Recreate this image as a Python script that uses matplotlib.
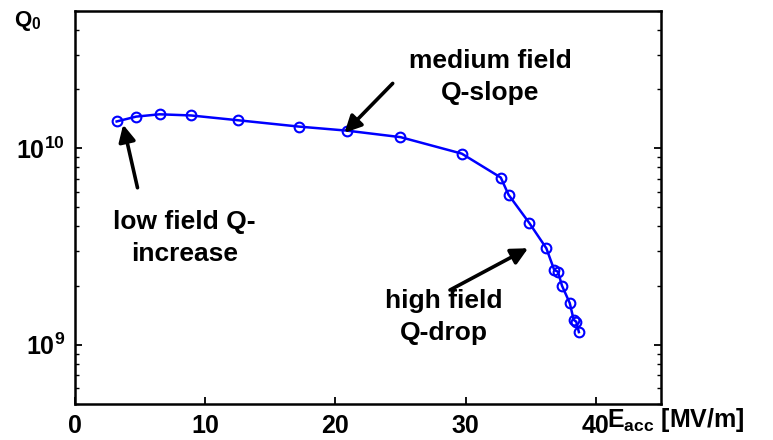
import matplotlib.pyplot as plt
from matplotlib.ticker import FixedLocator, LogLocator, NullFormatter

# 数据 (Eacc in MV/m, Q0)
eacc = [3.2, 4.7, 6.5, 8.9, 12.5, 17.2, 20.9, 25.0, 29.7, 32.7, 33.3, 34.9,
        36.2, 36.8, 37.1, 37.4, 38.0, 38.3, 38.5, 38.7]
q0 = [1.37e10, 1.45e10, 1.49e10, 1.47e10, 1.39e10, 1.29e10, 1.23e10, 1.14e10,
      9.4e9, 7.1e9, 5.8e9, 4.16e9, 3.1e9, 2.41e9, 2.35e9, 2.0e9, 1.63e9,
      1.34e9, 1.31e9, 1.16e9]
x_ticks = [0, 10, 20, 30, 40]
y_ticks = [1e9, 1e10]
y_tick_labels = [r'$\mathbf{10^{9}}$', r'$\mathbf{10^{10}}$']

plt.rcParams['font.family'] = ['Liberation Sans', 'DejaVu Sans']
plt.rcParams['mathtext.fontset'] = 'custom'
plt.rcParams['mathtext.bf'] = 'Liberation Sans:bold'

fig = plt.figure(figsize=(7.73, 4.40), dpi=100, facecolor='white')
ax = fig.add_axes([0.097, 0.082, 0.758, 0.893])

ax.plot(eacc, q0, color='blue', linewidth=1.8, marker='o', markersize=7,
        markerfacecolor='none', markeredgecolor='blue', markeredgewidth=1.5)

ax.set_yscale('log')
ax.set_xlim(0, 45)
ax.set_ylim(5e8, 5e10)

# 坐标轴样式
for s in ax.spines.values():
    s.set_linewidth(1.8)
ax.xaxis.set_major_locator(FixedLocator(x_ticks))
ax.set_xticklabels([str(t) for t in x_ticks], fontsize=18, fontweight='bold')
ax.yaxis.set_major_locator(FixedLocator(y_ticks))
ax.set_yticklabels(y_tick_labels, fontsize=18)
ax.yaxis.set_minor_locator(LogLocator(base=10, subs=range(2, 10)))
ax.yaxis.set_minor_formatter(NullFormatter())
ax.tick_params(axis='both', which='major', direction='in', length=5, width=1.3, pad=7)
ax.tick_params(axis='y', which='both', right=True, direction='in')
ax.tick_params(axis='y', which='minor', length=3, width=1)

fig.text(0.018, 0.953, r'$\mathbf{Q_0}$', fontsize=16, va='center')
fig.text(0.785, 0.045, r'$\mathbf{E_{acc}}$ [MV/m]', fontsize=18,
         fontweight='bold', va='center', ha='left')

# 注释
arrow = dict(arrowstyle='-|>,head_length=1.0,head_width=0.5', color='black',
             lw=2.6, shrinkA=0, shrinkB=0)
ax.annotate('', xy=(20.7, 1.2e10), xytext=(24.4, 2.14e10), arrowprops=arrow)
ax.text(31.9, 2.3e10, 'medium field\nQ-slope', fontsize=19, fontweight='bold',
        ha='center', va='center', linespacing=1.4)
ax.annotate('', xy=(3.7, 1.32e10), xytext=(4.8, 6.3e9), arrowprops=arrow)
ax.text(8.4, 3.5e9, 'low field Q-\nincrease', fontsize=19, fontweight='bold',
        ha='center', va='center', linespacing=1.4)
ax.annotate('', xy=(34.8, 3.1e9), xytext=(28.8, 1.9e9), arrowprops=arrow)
ax.text(28.3, 1.38e9, 'high field\nQ-drop', fontsize=19, fontweight='bold',
        ha='center', va='center', linespacing=1.4)

plt.savefig('out.png', dpi=100)
